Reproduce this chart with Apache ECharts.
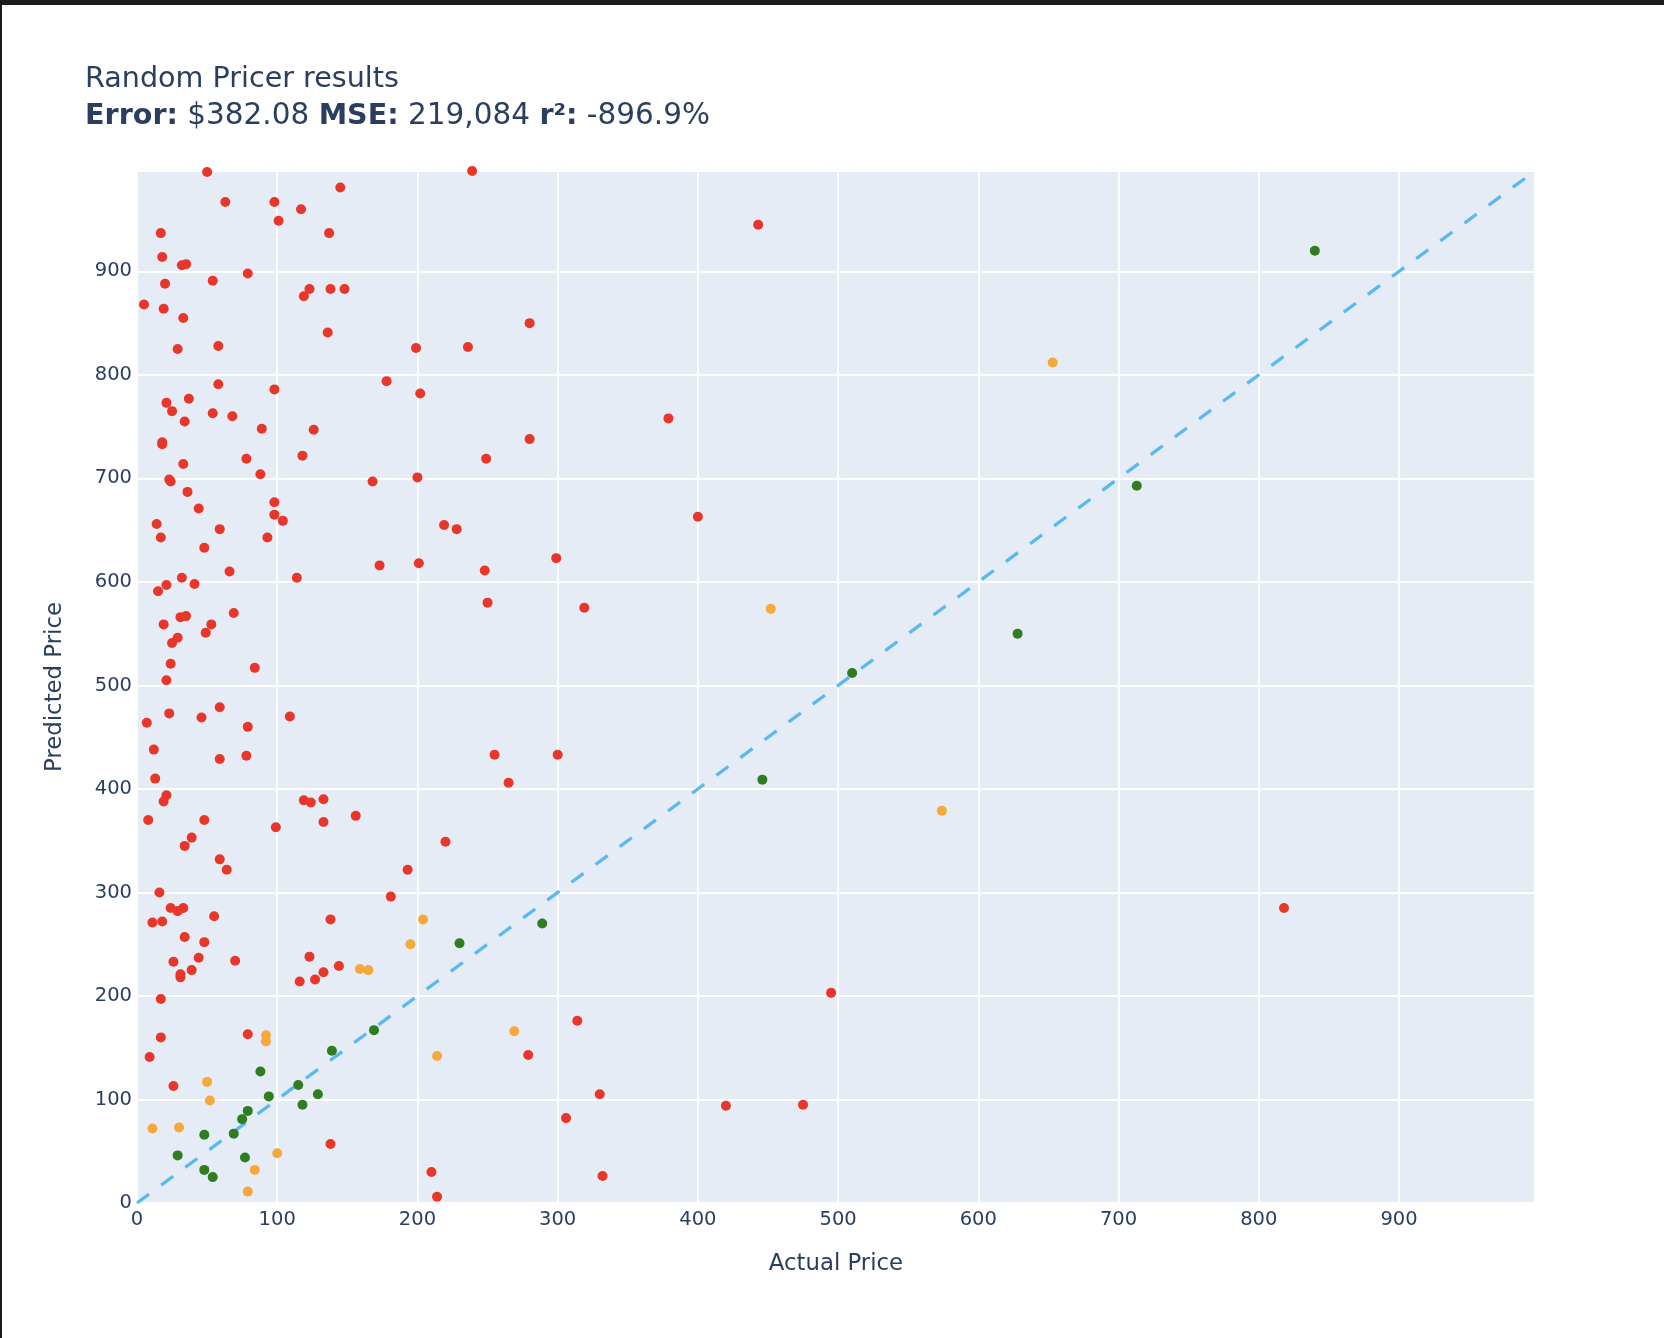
<!DOCTYPE html>
<html>
<head>
<meta charset="utf-8">
<title>Random Pricer results</title>
<script src="https://cdn.jsdelivr.net/npm/echarts@6/dist/echarts.min.js"></script>
<style>
  html, body { margin: 0; padding: 0; background: #fff; }
  #main { width: 1664px; height: 1338px; }
  #frame { position: absolute; left: 0; top: 0; width: 1664px; height: 1338px; box-sizing: border-box;
           border-top: 5px solid #1b1b1b; border-left: 2px solid #1b1b1b; pointer-events: none; }
</style>
</head>
<body>
<div id="main"></div>
<div id="frame"></div>
<script>
// axis range and ticks
var axisMax = 997;
var tickValues = [0, 100, 200, 300, 400, 500, 600, 700, 800, 900];

// title figures
var titleText = 'Random Pricer results';
var errorText = '$382.08';
var mseText = '219,084';
var r2Text = '-896.9%';

// [actual, predicted] pairs, split by colour band
var redPoints = [
    [50,996],[239,997],[63,967],[98,967],[145,981],[101,949],[117,960],[17,937],[137,937],[443,945],
    [18,914],[32,906],[35,907],[20,888],[54,891],[79,898],[5,868],[19,864],[119,876],[123,883],
    [138,883],[148,883],[33,855],[280,850],[136,841],[29,825],[58,828],[199,826],[236,827],[58,791],
    [178,794],[202,782],[21,773],[25,765],[37,777],[54,763],[68,760],[98,786],[34,755],[89,748],
    [126,747],[379,758],[280,738],[18,735],[18,733],[33,714],[78,719],[118,722],[249,719],[23,699],
    [24,697],[88,704],[168,697],[200,701],[36,687],[98,677],[98,665],[44,671],[104,659],[400,663],
    [14,656],[59,651],[219,655],[228,651],[17,643],[93,643],[48,633],[66,610],[299,623],[248,611],
    [32,604],[41,598],[114,604],[21,597],[15,591],[173,616],[201,618],[69,570],[250,580],[319,575],
    [53,559],[19,559],[31,566],[35,567],[29,546],[49,551],[25,541],[24,521],[84,517],[21,505],
    [23,473],[46,469],[109,470],[59,479],[7,464],[79,460],[12,438],[78,432],[59,429],[255,433],
    [300,433],[13,410],[265,406],[21,394],[19,388],[119,389],[124,387],[133,390],[156,374],[133,368],
    [8,370],[48,370],[99,363],[39,353],[34,345],[220,349],[59,332],[64,322],[193,322],[16,300],
    [181,296],[24,285],[29,282],[33,285],[55,277],[138,274],[11,271],[18,272],[818,285],[34,257],
    [48,252],[44,237],[26,233],[70,234],[123,238],[39,225],[31,221],[31,218],[144,229],[133,223],
    [127,216],[116,214],[17,197],[495,203],[314,176],[79,163],[17,160],[9,141],[279,143],[26,113],
    [330,105],[306,82],[420,94],[475,95],[138,57],[210,30],[332,26],[214,6]
];
var orangePoints = [
    [653,812],[452,574],[574,379],[204,274],[195,250],[159,226],[165,225],[92,162],[92,156],[269,166],
    [214,142],[50,117],[52,99],[11,72],[30,73],[100,48],[84,32],[79,11]
];
var greenPoints = [
    [840,920],[713,693],[628,550],[510,512],[446,409],[230,251],[289,270],[169,167],[139,147],[88,127],
    [115,114],[129,105],[94,103],[118,95],[79,89],[75,81],[69,67],[48,66],[29,46],[77,44],
    [48,32],[54,25]
];
var diagonal = [[0, 0], [axisMax, axisMax]];

var textColor = '#2a3f5f';
var fontFamily = '"DejaVu Sans", Verdana, sans-serif';

function tickLabel(v) {
    return tickValues.indexOf(v) >= 0 ? String(v) : '';
}

var myChart = echarts.init(document.getElementById('main'));
var option = {
    animation: false,
    textStyle: { fontFamily: fontFamily },
    title: {
        left: 85,
        top: 61,
        padding: 0,
        text: '{t|' + titleText + '}\n{b|Error:} ' + errorText + ' {b|MSE:} ' + mseText + ' {b|r²:} ' + r2Text,
        textStyle: {
            fontFamily: fontFamily,
            fontSize: 29.5,
            fontWeight: 'normal',
            lineHeight: 37,
            color: textColor,
            rich: {
                t: { fontFamily: fontFamily, fontSize: 28.6, fontWeight: 'normal', lineHeight: 37, color: textColor },
                b: { fontFamily: fontFamily, fontSize: 28.6, fontWeight: 'bold', lineHeight: 37, color: textColor }
            }
        }
    },
    grid: {
        left: 137,
        right: 129,
        top: 171,
        bottom: 135,
        show: true,
        backgroundColor: '#e5ecf6',
        borderWidth: 0
    },
    xAxis: {
        type: 'value',
        min: 0,
        max: axisMax,
        interval: 100,
        name: 'Actual Price',
        nameLocation: 'middle',
        nameGap: 50,
        nameTextStyle: { fontSize: 22.8, color: textColor, fontFamily: fontFamily },
        axisLine: { show: false },
        axisTick: { show: false },
        axisLabel: { fontSize: 19.5, color: textColor, margin: 7, showMaxLabel: false, formatter: tickLabel },
        splitLine: { lineStyle: { color: '#ffffff', width: 2 } }
    },
    yAxis: {
        type: 'value',
        min: 0,
        max: axisMax,
        interval: 100,
        name: 'Predicted Price',
        nameLocation: 'middle',
        nameRotate: 90,
        nameGap: 70,
        nameTextStyle: { fontSize: 22.8, color: textColor, fontFamily: fontFamily },
        axisLine: { show: false },
        axisTick: { show: false },
        axisLabel: { fontSize: 19.5, color: textColor, margin: 5, showMaxLabel: false, formatter: tickLabel },
        splitLine: { lineStyle: { color: '#ffffff', width: 2 } }
    },
    series: [
        {
            type: 'line',
            data: diagonal,
            symbol: 'none',
            z: 1,
            lineStyle: { color: '#5ab9f0', width: 3.3, type: [15, 15] }
        },
        {
            name: 'red',
            type: 'scatter',
            data: redPoints,
            symbolSize: 10,
            z: 2,
            itemStyle: { color: '#e8372a', opacity: 1 }
        },
        {
            name: 'orange',
            type: 'scatter',
            data: orangePoints,
            symbolSize: 10,
            z: 2,
            itemStyle: { color: '#f5a83c', opacity: 1 }
        },
        {
            name: 'green',
            type: 'scatter',
            data: greenPoints,
            symbolSize: 10,
            z: 2,
            itemStyle: { color: '#2e7d1e', opacity: 1 }
        }
    ]
};
myChart.setOption(option);
</script>
</body>
</html>
